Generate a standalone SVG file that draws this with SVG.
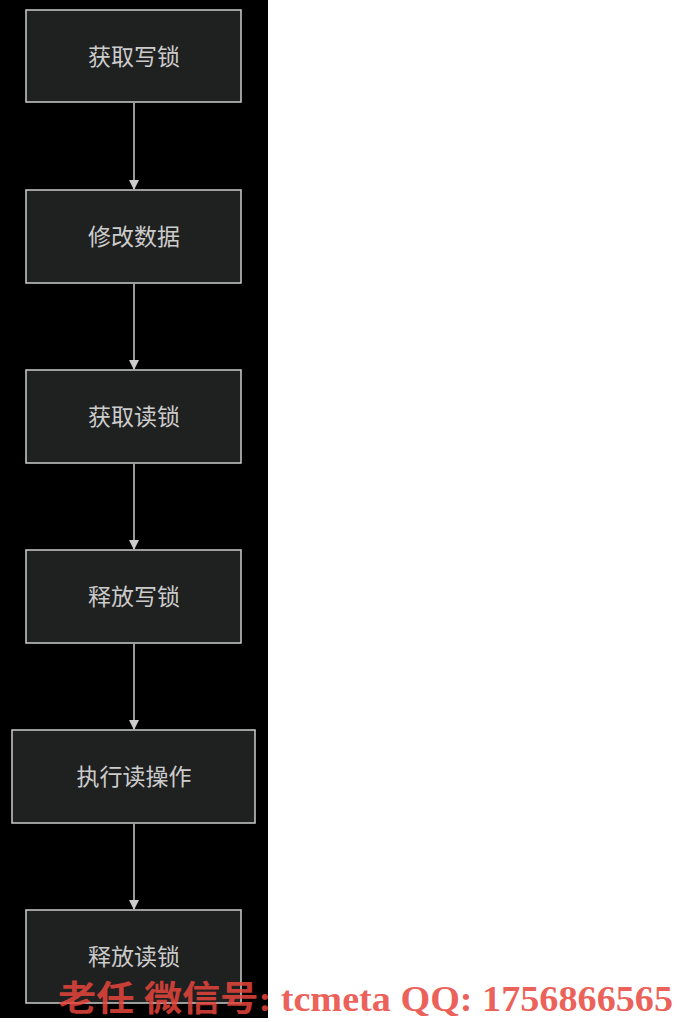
<svg xmlns="http://www.w3.org/2000/svg" width="679" height="1022" viewBox="0 0 679 1022">
<defs>
<style>
.n rect{fill:#1f2020;stroke:#ccc;stroke-width:1.5}
.n text{font-family:"Noto Sans CJK SC",sans-serif;font-size:23px;fill:#ccc;text-anchor:middle;dominant-baseline:central}
#edges path{stroke:#ccc;stroke-width:1.5;fill:none;marker-end:url(#a)}
</style>
<marker id="a" viewBox="0 0 10 10" refX="9" refY="5" markerWidth="10" markerHeight="10" markerUnits="userSpaceOnUse" orient="auto"><path d="M0,0L10,5L0,10z" fill="#ccc"/></marker>
</defs>
<rect width="679" height="1022" fill="#fff"/>
<rect width="268" height="1018" fill="#000"/>
<g id="edges">
<path d="M134,103V189"/><path d="M134,284V369"/><path d="M134,464V549"/><path d="M134,644V729"/><path d="M134,824V909"/>
</g>
<g id="n1" class="n"><rect x="26" y="10" width="215" height="92"/><text x="134" y="55">获取写锁</text></g>
<g id="n2" class="n"><rect x="26" y="190" width="215" height="93"/><text x="134" y="235">修改数据</text></g>
<g id="n3" class="n"><rect x="26" y="370" width="215" height="93"/><text x="134" y="415">获取读锁</text></g>
<g id="n4" class="n"><rect x="26" y="550" width="215" height="93"/><text x="134" y="595">释放写锁</text></g>
<g id="n5" class="n"><rect x="12" y="730" width="243" height="93"/><text x="134" y="775">执行读操作</text></g>
<g id="n6" class="n"><rect x="26" y="910" width="215" height="93"/><text x="134" y="955">释放读锁</text></g>
<text x="58" y="1011" textLength="615" lengthAdjust="spacingAndGlyphs" font-family="'Liberation Serif','Noto Sans CJK SC',serif" font-weight="bold" font-size="35" fill="#e8453c" fill-opacity="0.85">老任 微信号: tcmeta QQ: 1756866565</text>
</svg>
